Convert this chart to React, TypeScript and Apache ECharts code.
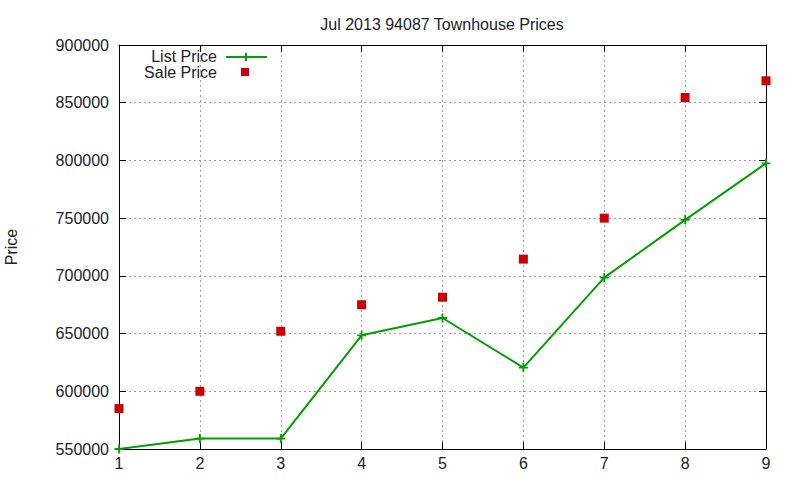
import * as React from "react";
import * as echarts from "echarts";
import { useEffect, useRef } from "react";

const months = [1, 2, 3, 4, 5, 6, 7, 8, 9];
const listPrice = [550000, 559000, 559000, 648500, 663500, 620500, 698500, 748500, 797500];
const salePrice = [585000, 600000, 652000, 675000, 681500, 714500, 750000, 854500, 869000];
const yTicks = { min: 550000, max: 900000, step: 50000 };

const GREEN = "#00a000";
const RED = "#cc0000";
const FONT = "Liberation Sans, Arial, sans-serif";
const PLUS = "path://M4,0 H6 V4 H10 V6 H6 V10 H4 V6 H0 V4 H4 Z";

const App = () => {
  const chartRef = useRef<HTMLDivElement>(null);

  useEffect(() => {
    document.body.style.margin = "0";
    if (!chartRef.current) return;
    const chart = echarts.init(chartRef.current, null, { renderer: "svg" });

    const gridLine = {
      show: true,
      lineStyle: { color: "#a0a0a0", type: [2, 3] as any, width: 1 },
    };
    const tick = { show: true, inside: true, length: 7, lineStyle: { color: "#000" } };
    const axisLine = { show: true, onZero: false, lineStyle: { color: "#000", width: 1 } };

    const option = {
      animation: false,
      backgroundColor: "#fff",
      title: {
        text: "Jul 2013 94087 Townhouse Prices",
        left: 437,
        top: 11,
        textAlign: "center",
        textStyle: { fontFamily: FONT, fontSize: 16, fontWeight: "normal", color: "#222" },
      },
      grid: { left: 119, right: 34, top: 45, bottom: 31, outerBoundsMode: "none" },
      xAxis: [
        {
          type: "value",
          min: 1,
          max: 9,
          interval: 1,
          position: "bottom",
          axisLine,
          axisTick: tick,
          splitLine: gridLine,
          axisLabel: { fontFamily: FONT, fontSize: 16, color: "#222", margin: 6 },
        },
        {
          type: "value",
          min: 1,
          max: 9,
          interval: 1,
          position: "top",
          axisLine,
          axisTick: tick,
          splitLine: { show: false },
          axisLabel: { show: false },
        },
      ],
      yAxis: [
        {
          type: "value",
          min: yTicks.min,
          max: yTicks.max,
          interval: yTicks.step,
          position: "left",
          name: "Price",
          nameLocation: "middle",
          nameGap: 100,
          nameRotate: 90,
          nameTextStyle: { fontFamily: FONT, fontSize: 16, color: "#222" },
          axisLine,
          axisTick: tick,
          splitLine: gridLine,
          axisLabel: {
            fontFamily: FONT,
            fontSize: 16,
            color: "#222",
            margin: 10,
            formatter: (v: number) => String(v),
          },
        },
        {
          type: "value",
          min: yTicks.min,
          max: yTicks.max,
          interval: yTicks.step,
          position: "right",
          axisLine,
          axisTick: tick,
          splitLine: { show: false },
          axisLabel: { show: false },
        },
      ],
      series: [
        {
          name: "List Price",
          type: "line",
          data: months.map((m, i) => [m, listPrice[i]]),
          symbol: PLUS,
          symbolSize: 9,
          showAllSymbol: true,
          lineStyle: { color: GREEN, width: 2 },
          itemStyle: { color: GREEN },
          z: 3,
        },
        {
          name: "Sale Price",
          type: "scatter",
          data: months.map((m, i) => [m, salePrice[i]]),
          symbol: "rect",
          symbolSize: 9,
          itemStyle: { color: RED, opacity: 1 },
          z: 4,
        },
      ],
      graphic: [
        {
          type: "text",
          x: 217,
          y: 56,
          style: {
            text: "List Price",
            align: "right",
            verticalAlign: "middle",
            font: `16px ${FONT}`,
            fill: "#222",
          },
        },
        {
          type: "line",
          shape: { x1: 226, y1: 57, x2: 267, y2: 57 },
          style: { stroke: GREEN, lineWidth: 2 },
        },
        {
          type: "line",
          shape: { x1: 246, y1: 53, x2: 246, y2: 61 },
          style: { stroke: GREEN, lineWidth: 2 },
        },
        {
          type: "text",
          x: 217,
          y: 72,
          style: {
            text: "Sale Price",
            align: "right",
            verticalAlign: "middle",
            font: `16px ${FONT}`,
            fill: "#222",
          },
        },
        {
          type: "rect",
          shape: { x: 241, y: 68, width: 8, height: 8 },
          style: { fill: RED },
        },
      ],
    };

    chart.setOption(option as any);
    return () => {
      chart.dispose();
    };
  }, []);

  return <div ref={chartRef} style={{ width: 800, height: 480 }} />;
};

export default App;
